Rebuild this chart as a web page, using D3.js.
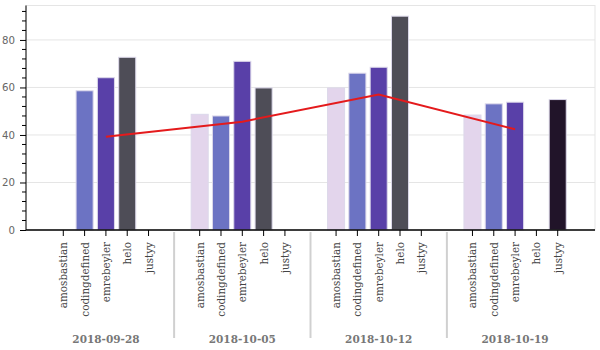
<!DOCTYPE html>
<html>
<head>
<meta charset="utf-8">
<script src="https://cdn.jsdelivr.net/npm/d3@7"></script>
<style>
  html, body { margin: 0; padding: 0; background: #fff; }
  svg { display: block; }
</style>
</head>
<body>
<svg id="chart" width="600" height="350"></svg>
<script>
// ---- data ----
const dates = ["2018-09-28", "2018-10-05", "2018-10-12", "2018-10-19"];
const users = ["amosbastian", "codingdefined", "emrebeyler", "helo", "justyy"];
const amosbastian   = [null, 48.7, 59.8, 48.4];
const codingdefined = [58.6, 48.0, 66.0, 53.1];
const emrebeyler    = [64.1, 71.0, 68.5, 53.8];
const helo          = [72.7, 59.8, 90.0, null];
const justyy        = [null, null, null, 54.9];
const averageLine   = [39.3, 45.6, 57.0, 42.4];
const yTicks = [0, 20, 40, 60, 80];
const colors = ["#e3d5ec", "#6c73c3", "#5940a8", "#4e4d57", "#211429"];

const series = [amosbastian, codingdefined, emrebeyler, helo, justyy];

// ---- layout ----
const svg = d3.select("#chart");
const mLeft = 26, mRight = 595, mTop = 5.5, mBottom = 230;
const groupPad = 1.4, rangePad = 1.25;
const perGroup = users.length + groupPad;
const total = dates.length * users.length + (dates.length - 1) * groupPad;

const x = d3.scaleLinear().domain([-rangePad, total + rangePad]).range([mLeft, mRight]);
const y = d3.scaleLinear().domain([0, 94.5]).range([mBottom, mTop]);
const unit = x(1) - x(0);
const catX = (g, c) => x(g * perGroup + c + 0.5);

// frame (top/right light)
svg.append("rect").attr("x", mLeft).attr("y", mTop).attr("width", mRight - mLeft).attr("height", mBottom - mTop)
  .attr("fill", "none").attr("stroke", "#e5e5e5").attr("stroke-width", 1);

// grid
svg.append("g").selectAll("line").data(yTicks.filter(d => d > 0)).join("line")
  .attr("x1", mLeft).attr("x2", mRight)
  .attr("y1", d => y(d)).attr("y2", d => y(d))
  .attr("stroke", "#e5e5e5").attr("stroke-width", 1);

// bars
const bars = [];
dates.forEach((d, g) => users.forEach((u, c) => {
  const v = series[c][g];
  if (v != null) bars.push({g, c, v});
}));
svg.append("g").selectAll("rect").data(bars).join("rect")
  .attr("x", d => catX(d.g, d.c) - 0.4 * unit)
  .attr("width", 0.8 * unit)
  .attr("y", d => y(d.v))
  .attr("height", d => y(0) - y(d.v))
  .attr("fill", d => colors[d.c])
  .attr("stroke", "#dcd8ea").attr("stroke-width", 1);

// red line at middle category of each group
const line = d3.line().x((d, i) => catX(i, 2)).y(d => y(d));
svg.append("path").datum(averageLine).attr("d", line)
  .attr("fill", "none").attr("stroke", "#e41a1c").attr("stroke-width", 2);

// y axis
const yAxis = d3.axisLeft(y).tickValues(yTicks).tickSize(6).tickPadding(5);
const yg = svg.append("g").attr("transform", `translate(${mLeft},0)`).call(yAxis);
yg.select(".domain").attr("d", `M0,${mTop}V${mBottom}`).attr("stroke", "#000");
yg.selectAll(".tick line").attr("stroke", "#000");
yg.selectAll(".tick text").attr("fill", "#666").style("font-family", "DejaVu Sans").style("font-size", "10.2px");
// minor ticks
const minor = d3.range(0, 94.5, 4).filter(v => v % 20 !== 0);
yg.append("g").selectAll("line").data(minor).join("line")
  .attr("x1", -4).attr("x2", 0).attr("y1", d => y(d)).attr("y2", d => y(d))
  .attr("stroke", "#000");

// x axis
const xg = svg.append("g");
xg.append("line").attr("x1", mLeft).attr("x2", mRight).attr("y1", mBottom).attr("y2", mBottom)
  .attr("stroke", "#000").attr("stroke-width", 1.3);
const cats = [];
dates.forEach((d, g) => users.forEach((u, c) => cats.push({g, c, u})));
xg.selectAll("line.tk").data(cats).join("line").attr("class", "tk")
  .attr("x1", d => catX(d.g, d.c)).attr("x2", d => catX(d.g, d.c))
  .attr("y1", mBottom).attr("y2", mBottom + 6).attr("stroke", "#000");
xg.selectAll("text.cat").data(cats).join("text").attr("class", "cat")
  .attr("transform", d => `translate(${catX(d.g, d.c)},242) rotate(-90)`)
  .attr("text-anchor", "end").attr("dominant-baseline", "central")
  .attr("fill", "#444").style("font-family", "DejaVu Serif").style("font-size", "10.4px")
  .text(d => d.u);

// group separators
xg.selectAll("line.sep").data(dates.slice(1)).join("line").attr("class", "sep")
  .attr("x1", (d, i) => x((i + 1) * perGroup - groupPad / 2))
  .attr("x2", (d, i) => x((i + 1) * perGroup - groupPad / 2))
  .attr("y1", 232).attr("y2", 338)
  .attr("stroke", "#d0d0d0").attr("stroke-width", 2);

// group labels
xg.selectAll("text.grp").data(dates).join("text").attr("class", "grp")
  .attr("x", (d, g) => catX(g, 2)).attr("y", 343)
  .attr("text-anchor", "middle")
  .attr("fill", "#777").style("font-family", "DejaVu Serif").style("font-weight", "bold").style("font-size", "10.5px")
  .text(d => d);
</script>
</body>
</html>
